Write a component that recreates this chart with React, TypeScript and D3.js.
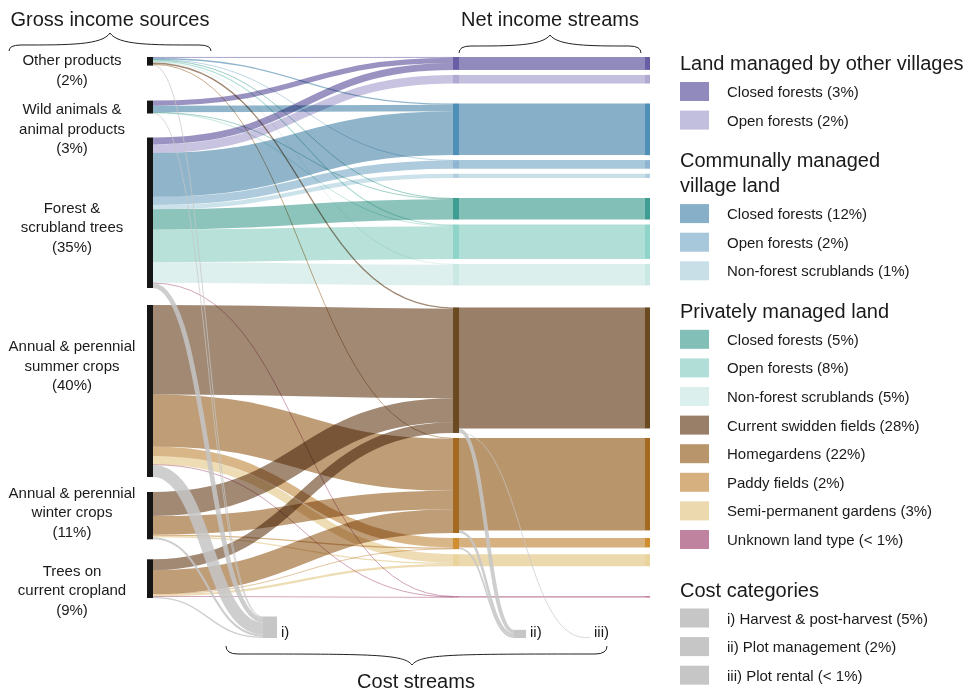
import React from "react";
import * as d3 from "d3";

// ---------- DATA ----------
const SOURCE_LINES: string[][] = [
  ["Other products", "(2%)"],
  ["Wild animals &", "animal products", "(3%)"],
  ["Forest &", "scrubland trees", "(35%)"],
  ["Annual & perennial", "summer crops", "(40%)"],
  ["Annual & perennial", "winter crops", "(11%)"],
  ["Trees on", "current cropland", "(9%)"],
];

// land types (middle column), in order
const LAND_LABELS = [
  "Closed forests (3%)",
  "Open forests (2%)",
  "Closed forests (12%)",
  "Open forests (2%)",
  "Non-forest scrublands (1%)",
  "Closed forests (5%)",
  "Open forests (8%)",
  "Non-forest scrublands (5%)",
  "Current swidden fields (28%)",
  "Homegardens (22%)",
  "Paddy fields (2%)",
  "Semi-permanent gardens (3%)",
  "Unknown land type (< 1%)",
];
const LAND_GROUP = [0, 0, 1, 1, 1, 2, 2, 2, 3, 3, 3, 3, 4];

// gross income (% of total) from each source to each land type
const SOURCE_TO_LAND: number[][] = [
  [0.2, 0, 0.3, 0.1, 0, 0.2, 0.3, 0.2, 0.3, 0.2, 0, 0, 0],
  [1.2, 0, 1.5, 0, 0, 0.1, 0.1, 0, 0, 0, 0, 0, 0],
  [1.6, 2.0, 10.2, 1.9, 1.0, 4.7, 7.6, 4.8, 0, 0, 0, 0, 0.1],
  [0, 0, 0, 0, 0, 0, 0, 0, 20.8, 12.1, 2.2, 2.0, 0.1],
  [0, 0, 0, 0, 0, 0, 0, 0, 5.6, 4.3, 0.3, 0.3, 0],
  [0, 0, 0, 0, 0, 0, 0, 0, 2.5, 5.5, 0.1, 0.5, 0.1],
];
// cost i) harvest & post-harvest, from sources
const SOURCE_TO_HARVEST = [0.2, 0.1, 1.1, 2.8, 0.5, 0.3];
// cost ii) plot management and iii) plot rental, from land types
const LAND_TO_PLOT_MGMT = [0, 0, 0, 0, 0, 0, 0, 0, 0.9, 0.6, 0.4, 0, 0];
const LAND_TO_RENTAL = [0, 0, 0, 0, 0, 0, 0, 0, 0.15, 0, 0, 0, 0];

const COST_TAGS = ["i)", "ii)", "iii)"];
const COST_LABELS = [
  "i) Harvest & post-harvest (5%)",
  "ii) Plot management (2%)",
  "iii) Plot rental (< 1%)",
];

const LEGEND_TITLES: string[][] = [
  ["Land managed by other villages"],
  ["Communally managed", "village land"],
  ["Privately managed land"],
  ["Cost categories"],
];

// ---------- STYLE ----------
const LAND_COLORS = [
  "#918abd", "#c2bedd", "#87afc7", "#a7c7da", "#c8dfe8",
  "#82bfb6", "#b1ded6", "#dbefec", "#997f68", "#b9956b",
  "#d6b07e", "#ecd9ae", "#c0839f",
];
const LAND_NODE_COLORS = [
  "#675ea6", "#b0aad3", "#4e8fb8", "#8eb6d2", "#b3cfe0",
  "#3f9e92", "#8fd4c8", "#cbe8e4", "#6a4a20", "#a56a22",
  "#d08e32", "#e8d49c", "#b86090",
];
const COST_COLOR = "#c6c6c6";
const FONT = "'Liberation Sans', Arial, Helvetica, sans-serif";

type Node = { x0: number; x1: number; y0: number; y1: number; outs: Link[]; ins: Link[] };
type Link = { s: Node; t: Node; v: number; color: string; kind: string; sy?: number; ty?: number };

function bracePath(x1: number, x2: number, yEnd: number, yBody: number, yTip: number, xm: number) {
  return `M${x1},${yEnd} Q${x1},${yBody} ${x1 + 12},${yBody} C${xm - 40},${yBody} ${xm - 8},${yBody} ${xm},${yTip} C${xm + 8},${yBody} ${xm + 40},${yBody} ${x2 - 12},${yBody} Q${x2},${yBody} ${x2},${yEnd}`;
}

export default function App() {
  const W = 973, H = 693;
  const k = 4.3;
  const top = 57;
  const srcX0 = 147, srcX1 = 153, midX0 = 453, midX1 = 459, endX0 = 645, endX1 = 650;
  const SRC_GAPS = [0, 35, 24, 17, 15, 20];
  const INNER_GAP = 5;
  const GROUP_GAPS = [0, 20, 20, 22, 30];
  const COST_X = [263, 514, 586];
  const COST_W = [14, 12, 4];
  const costBottom = 638;

  const mk = (x0: number, x1: number, y0: number, y1: number): Node => ({ x0, x1, y0, y1, outs: [], ins: [] });

  // source nodes
  const srcTotals = SOURCE_LINES.map((_, i) => d3.sum(SOURCE_TO_LAND[i]) + SOURCE_TO_HARVEST[i]);
  let y = top;
  const srcNodes = srcTotals.map((v, i) => {
    y += SRC_GAPS[i];
    const n = mk(srcX0, srcX1, y, y + v * k);
    y = n.y1;
    return n;
  });

  // land nodes
  const landIn = LAND_LABELS.map((_, j) => d3.sum(SOURCE_TO_LAND, (r) => r[j]));
  y = top;
  const landNodes = landIn.map((v, j) => {
    if (j > 0) y += LAND_GROUP[j] !== LAND_GROUP[j - 1] ? GROUP_GAPS[LAND_GROUP[j]] : INNER_GAP;
    const n = mk(midX0, midX1, y, y + v * k);
    y = n.y1;
    return n;
  });
  const landNet = landIn.map((v, j) => v - LAND_TO_PLOT_MGMT[j] - LAND_TO_RENTAL[j]);
  const endNodes = landNodes.map((n, j) => mk(endX0, endX1, n.y0, n.y0 + landNet[j] * k));

  // cost nodes
  const costTotals = [d3.sum(SOURCE_TO_HARVEST), d3.sum(LAND_TO_PLOT_MGMT), d3.sum(LAND_TO_RENTAL)];
  const costNodes = costTotals.map((v, c) => mk(COST_X[c], COST_X[c] + COST_W[c], costBottom - v * k, costBottom));

  const links: Link[] = [];
  const add = (s: Node, t: Node, v: number, color: string, kind: string) => {
    if (v <= 0) return;
    const l: Link = { s, t, v, color, kind };
    s.outs.push(l);
    t.ins.push(l);
    links.push(l);
  };
  SOURCE_TO_LAND.forEach((row, i) => row.forEach((v, j) => add(srcNodes[i], landNodes[j], v, LAND_COLORS[j], "flow")));
  SOURCE_TO_HARVEST.forEach((v, i) => add(srcNodes[i], costNodes[0], v, COST_COLOR, "cost"));
  landNodes.forEach((n, j) => add(n, endNodes[j], landNet[j], LAND_COLORS[j], "net"));
  LAND_TO_PLOT_MGMT.forEach((v, j) => add(landNodes[j], costNodes[1], v, COST_COLOR, "cost"));
  LAND_TO_RENTAL.forEach((v, j) => add(landNodes[j], costNodes[2], v, COST_COLOR, "cost"));

  const allNodes = [...srcNodes, ...landNodes, ...endNodes, ...costNodes];
  allNodes.forEach((n) => {
    n.outs.sort((a, b) => a.t.y0 - b.t.y0);
    n.ins.sort((a, b) => a.s.y0 - b.s.y0);
    let c = n.y0;
    n.outs.forEach((l) => { l.sy = c + (l.v * k) / 2; c += l.v * k; });
    c = n.y0;
    n.ins.forEach((l) => { l.ty = c + (l.v * k) / 2; c += l.v * k; });
  });

  const linkGen = d3.linkHorizontal<any, [number, number]>().source((d: any) => d[0]).target((d: any) => d[1]);
  const pathOf = (l: Link) => linkGen([[l.s.x1, l.sy!], [l.t.x0, l.ty!]] as any) as string;

  // legend layout
  const legendItems: { title: string[]; items: { label: string; color: string }[]; extra: number }[] = [
    { title: LEGEND_TITLES[0], items: [0, 1].map((j) => ({ label: LAND_LABELS[j], color: LAND_COLORS[j] })), extra: 0 },
    { title: LEGEND_TITLES[1], items: [2, 3, 4].map((j) => ({ label: LAND_LABELS[j], color: LAND_COLORS[j] })), extra: 0 },
    { title: LEGEND_TITLES[2], items: [5, 6, 7, 8, 9, 10, 11, 12].map((j) => ({ label: LAND_LABELS[j], color: LAND_COLORS[j] })), extra: 0 },
    { title: LEGEND_TITLES[3], items: COST_LABELS.map((label) => ({ label, color: COST_COLOR })), extra: 10 },
  ];
  const legendEls: React.ReactNode[] = [];
  let ly = 63;
  legendItems.forEach((g, gi) => {
    ly += g.extra;
    g.title.forEach((t, ti) => {
      legendEls.push(
        <text key={`lt${gi}-${ti}`} x={680} y={ly} fontSize={20} dominantBaseline="central" fill="#1a1a1a">{t}</text>
      );
      if (ti < g.title.length - 1) ly += 25;
    });
    ly += 28.5;
    g.items.forEach((it, ii) => {
      legendEls.push(
        <g key={`li${gi}-${ii}`}>
          <rect x={680} y={ly - 9.5} width={29} height={19} fill={it.color} />
          <text x={727} y={ly} fontSize={15} dominantBaseline="central" fill="#1a1a1a">{it.label}</text>
        </g>
      );
      if (ii < g.items.length - 1) ly += 28.6;
    });
    ly += 40;
  });

  const LABEL_OFFSETS = [8, 21, 14, -26, -4, 11];

  return (
    <svg width={W} height={H} style={{ position: "absolute", left: 0, top: 0, fontFamily: FONT, background: "#fff" }}>
      <rect x={0} y={0} width={W} height={H} fill="#fff" />
      {/* flows into land types */}
      <g style={{ isolation: "isolate" }}>
        {links.filter((l) => l.kind === "flow").map((l, i) => (
          <path key={`f${i}`} d={pathOf(l)} fill="none" stroke={l.color} strokeWidth={Math.max(l.v * k, 0.8)} strokeOpacity={0.92} style={{ mixBlendMode: "multiply" }} />
        ))}
        {links.filter((l) => l.kind === "net").map((l, i) => (
          <path key={`n${i}`} d={pathOf(l)} fill="none" stroke={l.color} strokeWidth={Math.max(l.v * k, 0.8)} />
        ))}
      </g>
      {links.filter((l) => l.kind === "cost").map((l, i) => (
        <path key={`c${i}`} d={pathOf(l)} fill="none" stroke={l.color} strokeWidth={Math.max(l.v * k, 0.8)} strokeOpacity={0.85} />
      ))}
      {/* nodes */}
      {srcNodes.map((n, i) => (
        <rect key={`s${i}`} x={n.x0} y={n.y0} width={n.x1 - n.x0} height={n.y1 - n.y0} fill="#151515" />
      ))}
      {landNodes.map((n, j) => (
        <rect key={`m${j}`} x={n.x0} y={n.y0} width={n.x1 - n.x0} height={Math.max(n.y1 - n.y0, 1)} fill={LAND_NODE_COLORS[j]} />
      ))}
      {endNodes.map((n, j) => (
        <rect key={`e${j}`} x={n.x0} y={n.y0} width={n.x1 - n.x0} height={Math.max(n.y1 - n.y0, 1)} fill={LAND_NODE_COLORS[j]} />
      ))}
      {costNodes.map((n, c) => (
        <g key={`cn${c}`}>
          <rect x={n.x0} y={n.y0} width={n.x1 - n.x0} height={n.y1 - n.y0} fill={COST_COLOR} />
          <text x={n.x1 + 4} y={costBottom - 7} fontSize={15} dominantBaseline="central" fill="#1a1a1a">{COST_TAGS[c]}</text>
        </g>
      ))}
      {/* source labels */}
      {SOURCE_LINES.map((lines, i) => {
        const n = srcNodes[i];
        const cy = (n.y0 + n.y1) / 2 + LABEL_OFFSETS[i];
        const y0 = cy - ((lines.length - 1) * 19.5) / 2;
        return (
          <text key={`sl${i}`} x={72} fontSize={15} textAnchor="middle" fill="#1a1a1a">
            {lines.map((t, li) => (
              <tspan key={li} x={72} y={y0 + li * 19.5} dominantBaseline="central">{t}</tspan>
            ))}
          </text>
        );
      })}
      {/* titles and braces */}
      <text x={110} y={19} fontSize={20} textAnchor="middle" dominantBaseline="central" fill="#1a1a1a">Gross income sources</text>
      <path d={bracePath(9, 211, 51, 45, 33, 110)} fill="none" stroke="#222" strokeWidth={1} />
      <text x={550} y={19} fontSize={20} textAnchor="middle" dominantBaseline="central" fill="#1a1a1a">Net income streams</text>
      <path d={bracePath(459, 641, 53, 46, 35, 550)} fill="none" stroke="#222" strokeWidth={1} />
      <path d={bracePath(226, 607, 646, 654, 665, 412)} fill="none" stroke="#222" strokeWidth={1} />
      <text x={416} y={681} fontSize={20} textAnchor="middle" dominantBaseline="central" fill="#1a1a1a">Cost streams</text>
      {legendEls}
    </svg>
  );
}
